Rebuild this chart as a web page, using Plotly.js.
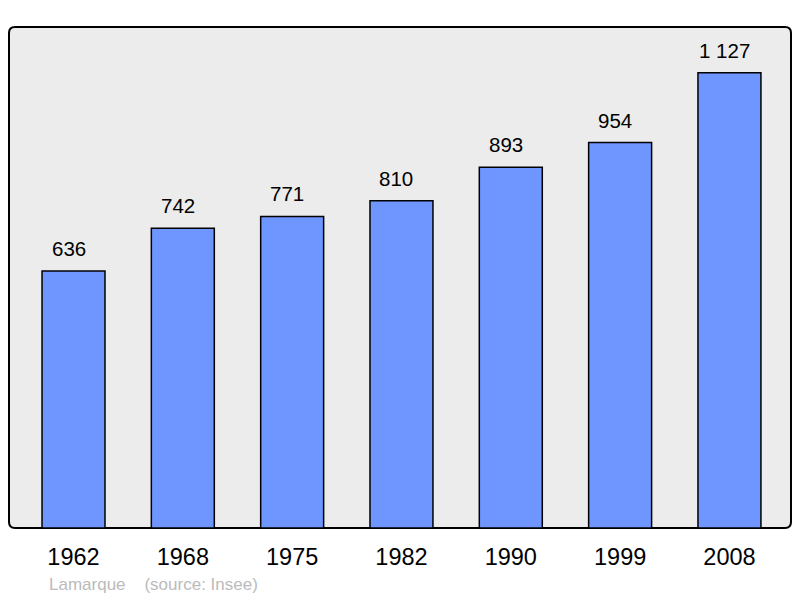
<!DOCTYPE html>
<html><head><meta charset="utf-8">
<script src="https://cdn.plot.ly/plotly-3.0.1.min.js"></script>
<style>html,body{margin:0;padding:0;background:#fff}#c{width:800px;height:598px}</style>
</head><body><div id="c"></div>
<script>
const years = ["1962","1968","1975","1982","1990","1999","2008"];
const population = [636, 742, 771, 810, 893, 954, 1127];
const footerText = "Lamarque&nbsp;&nbsp;&nbsp;&nbsp;(source: Insee)";

function fmt(v){ return String(v).replace(/\B(?=(\d{3})+(?!\d))/g, " "); }

const W = 800, H = 598, L = 9, R = 9, T = 27, B = 70;
const pw = W - L - R, ph = H - T - B;
const rx = 6 / pw, ry = 6 / ph;
const framePath = `M ${rx} 0 L ${1-rx} 0 Q 1 0 1 ${ry} L 1 ${1-ry} Q 1 1 ${1-rx} 1 L ${rx} 1 Q 0 1 0 ${1-ry} L 0 ${ry} Q 0 0 ${rx} 0 Z`;
const FONT = 'Liberation Sans, Arial, sans-serif';

const annotations = population.map((v, i) => ({
  x: i, y: v, xref: 'x', yref: 'y', text: fmt(v), showarrow: false,
  yanchor: 'bottom', yshift: 9, xshift: -5, font: {family: FONT, size: 20.5, color: '#000'}
}));
annotations.push({
  xref: 'paper', yref: 'paper', x: (47 - L) / pw, y: -(584 - (H - B)) / ph,
  xanchor: 'left', yanchor: 'middle', showarrow: false, text: footerText,
  font: {family: FONT, size: 17, color: '#bbbbbb'}
});

const data = [{
  type: 'bar', x: years, y: population, width: 0.576,
  marker: {color: '#6f96ff', line: {color: '#000', width: 1.5}},
  hoverinfo: 'none'
}];

const layout = {
  width: W, height: H,
  margin: {l: L, r: R, t: T, b: B, pad: 0},
  paper_bgcolor: '#ffffff', plot_bgcolor: 'rgba(0,0,0,0)',
  showlegend: false,
  xaxis: {type: 'category', range: [-0.59, 6.563], showgrid: false, zeroline: false, showline: false,
    ticks: '', tickfont: {family: FONT, size: 23.5, color: '#000'},
    ticklabelstandoff: 12, fixedrange: true},
  yaxis: {range: [0, 1240], showgrid: false, zeroline: false, showline: false, showticklabels: false, ticks: '', fixedrange: true},
  shapes: [{type: 'path', xref: 'paper', yref: 'paper', path: framePath, fillcolor: '#ececec', line: {color: '#000', width: 2}, layer: 'below'}],
  annotations: annotations
};

Plotly.newPlot('c', data, layout, {displayModeBar: false, staticPlot: true});
</script></body></html>
